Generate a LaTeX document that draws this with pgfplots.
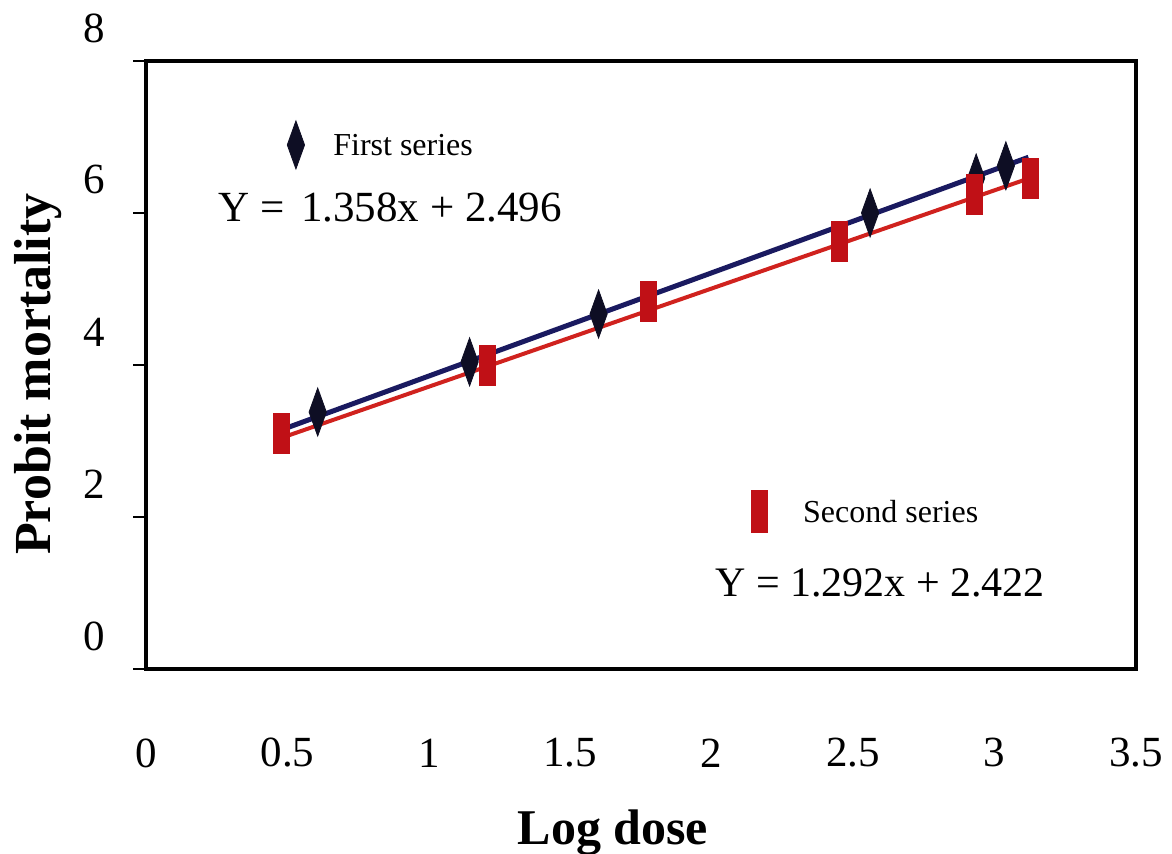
\documentclass[border=0pt]{standalone}
\usepackage{fontspec}
\setmainfont{Liberation Serif}
\usepackage{pgfplots}
\pgfplotsset{compat=1.18}

\definecolor{seriesred}{RGB}{192,16,22}
\definecolor{linered}{RGB}{208,34,30}
\definecolor{linenavy}{RGB}{26,26,96}
\definecolor{marknavy}{RGB}{14,14,36}

% observed probit mortality against log dose
\pgfplotstableread{
x      y
0.607  3.38
1.144  4.04
1.600  4.67
2.560  6.00
2.935  6.46
3.040  6.62
}\firstseries

\pgfplotstableread{
x      y
0.477  3.10
1.208  4.00
1.777  4.83
2.450  5.62
2.930  6.24
3.126  6.45
}\secondseries

% fitted regression lines, end points from the equations
\pgfplotstableread{
x      y
0.480  3.148
3.120  6.733
}\firstfit

\pgfplotstableread{
x      y
0.477  3.038
3.126  6.461
}\secondfit

\begin{document}
\begin{tikzpicture}
\begin{axis}[
  scale only axis,
  width=495pt, height=304pt,
  xmin=0, xmax=3.5, ymin=0, ymax=8,
  clip=false,
  xtick={0,0.5,1,1.5,2,2.5,3,3.5},
  xticklabels={0,0.5,1,1.5,2,2.5,3,3.5},
  ytick={0,2,4,6,8},
  yticklabels={0,2,4,6,8},
  ytick pos=left,
  tick align=outside,
  major tick length=6.5pt,
  tick style={line width=1pt, black},
  xtick style={draw=none},
  axis line style={line width=1.6pt},
  tick label style={font=\fontsize{21.5}{25}\selectfont},
  xticklabel style={anchor=center, yshift=-35.5pt},
  yticklabel style={anchor=east, inner sep=0pt, xshift=-14pt, yshift=16.5pt},
]
  % data points
  \addplot[only marks, mark=diamond*, mark size=12pt,
           mark options={xscale=0.48, fill=marknavy, draw=marknavy}]
    table[x=x, y=y] {\firstseries};
  \addplot[only marks, mark=square*, mark size=10pt,
           mark options={xscale=0.4, fill=seriesred, draw=seriesred}]
    table[x=x, y=y] {\secondseries};

  % regression lines
  \addplot[linenavy, line width=2.5pt] table[x=x, y=y] {\firstfit};
  \addplot[linered, line width=2pt] table[x=x, y=y] {\secondfit};

  % key symbols
  \addplot[only marks, mark=diamond*, mark size=12pt,
           mark options={xscale=0.48, fill=marknavy, draw=marknavy}, forget plot]
    coordinates {(0.530,6.895)};
  \addplot[only marks, mark=square*, mark size=10.5pt,
           mark options={xscale=0.38, fill=seriesred, draw=seriesred}, forget plot]
    coordinates {(2.170,2.079)};

  % key texts and equations
  \node[anchor=base west, inner sep=0pt, font=\fontsize{16}{19}\selectfont]
    at (axis cs:0.661,6.75) {First series};
  \node[anchor=base west, inner sep=0pt, font=\fontsize{21.5}{25}\selectfont]
    at (axis cs:0.2545,5.882) {Y =\hspace{3pt} 1.358x + 2.496};
  \node[anchor=base west, inner sep=0pt, font=\fontsize{16}{19}\selectfont]
    at (axis cs:2.322,1.921) {Second series};
  \node[anchor=base west, inner sep=0pt, font=\fontsize{21}{25}\selectfont]
    at (axis cs:2.011,0.947) {Y = 1.292x + 2.422};

  % axis titles
  \node[anchor=base, inner sep=0pt, font=\bfseries\fontsize{25}{30}\selectfont]
    at (rel axis cs:0.4717,-0.2895) {Log dose};
  \node[anchor=base, rotate=90, inner sep=0pt, font=\bfseries\fontsize{26}{30}\selectfont]
    at (rel axis cs:-0.0969,0.485) {Probit mortality};

  % page extent
  \coordinate (pageSW) at (rel axis cs:-0.1475,-0.3043);
  \coordinate (pageNE) at (rel axis cs:1.0364,1.1003);
\end{axis}
\pgfresetboundingbox
\useasboundingbox (pageSW) rectangle (pageNE);
\end{tikzpicture}
\end{document}
